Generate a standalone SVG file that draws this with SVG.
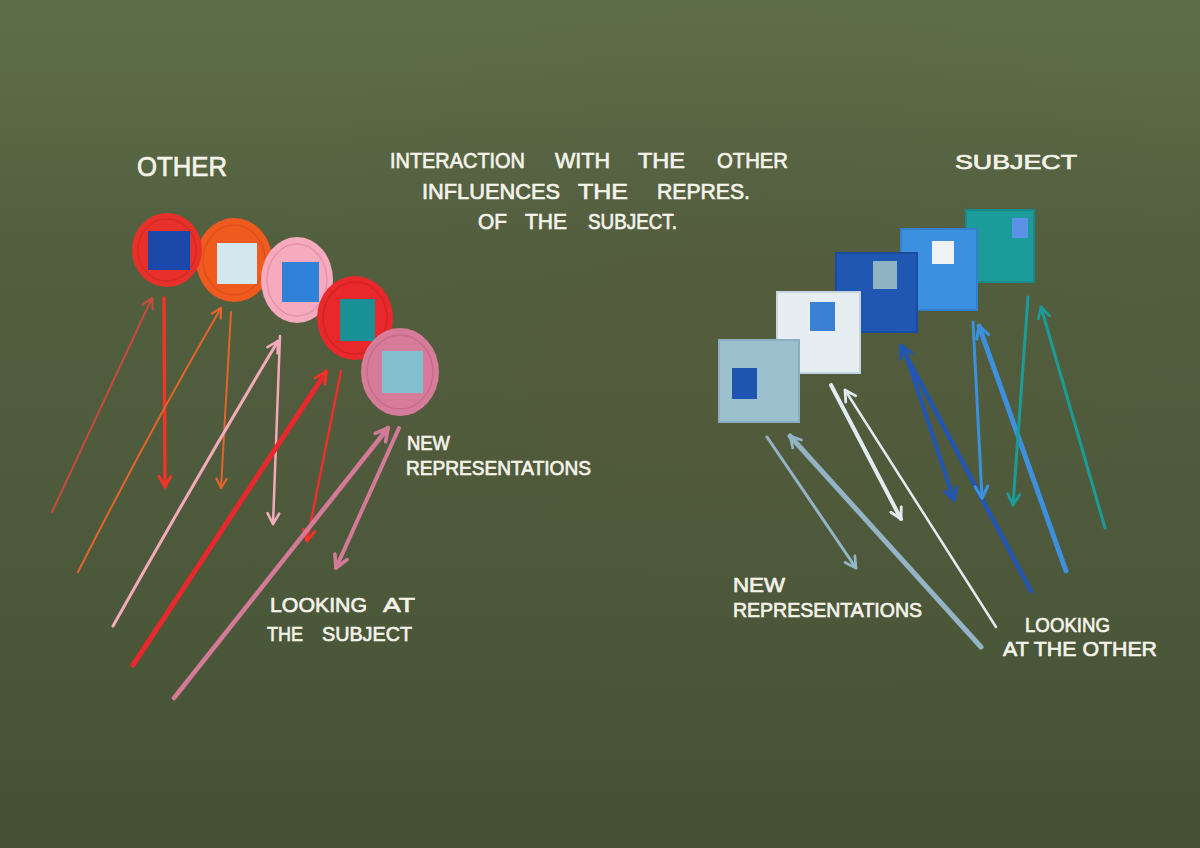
<svg xmlns="http://www.w3.org/2000/svg" width="1200" height="848" viewBox="0 0 1200 848">
<defs>
  <linearGradient id="bg" x1="0" y1="0" x2="0" y2="1">
    <stop offset="0" stop-color="#5f6e4a"/>
    <stop offset="0.3" stop-color="#525f3f"/>
    <stop offset="0.75" stop-color="#4b5739"/>
    <stop offset="1" stop-color="#455035"/>
  </linearGradient>
  <radialGradient id="warm" cx="0.62" cy="0.42" r="0.45">
    <stop offset="0" stop-color="#58583a" stop-opacity="0.3"/>
    <stop offset="1" stop-color="#58583a" stop-opacity="0"/>
  </radialGradient>
  <marker id="m-brick" viewBox="0 0 14 14" refX="12" refY="7" markerWidth="14" markerHeight="14" markerUnits="userSpaceOnUse" orient="auto"><path d="M2,1.5 L12,7 L2,12.5" fill="none" stroke="#c44c3c" stroke-width="2.2" stroke-linecap="round" stroke-linejoin="round"/></marker>
  <marker id="m-red" viewBox="0 0 14 14" refX="12" refY="7" markerWidth="15" markerHeight="15" markerUnits="userSpaceOnUse" orient="auto"><path d="M2,1.5 L12,7 L2,12.5" fill="none" stroke="#ef3428" stroke-width="2.8" stroke-linecap="round" stroke-linejoin="round"/></marker>
  <marker id="m-orange" viewBox="0 0 14 14" refX="12" refY="7" markerWidth="13" markerHeight="13" markerUnits="userSpaceOnUse" orient="auto"><path d="M2,1.5 L12,7 L2,12.5" fill="none" stroke="#e2652c" stroke-width="2.4" stroke-linecap="round" stroke-linejoin="round"/></marker>
  <marker id="m-pink" viewBox="0 0 14 14" refX="12" refY="7" markerWidth="15" markerHeight="15" markerUnits="userSpaceOnUse" orient="auto"><path d="M2,1.5 L12,7 L2,12.5" fill="none" stroke="#f3aabb" stroke-width="2.4" stroke-linecap="round" stroke-linejoin="round"/></marker>
  <marker id="m-mauve" viewBox="0 0 14 14" refX="12" refY="7" markerWidth="17" markerHeight="17" markerUnits="userSpaceOnUse" orient="auto"><path d="M2,1.5 L12,7 L2,12.5" fill="none" stroke="#d47a98" stroke-width="3" stroke-linecap="round" stroke-linejoin="round"/></marker>
  <marker id="m-grey" viewBox="0 0 14 14" refX="12" refY="7" markerWidth="15" markerHeight="15" markerUnits="userSpaceOnUse" orient="auto"><path d="M2,1.5 L12,7 L2,12.5" fill="none" stroke="#93b4c4" stroke-width="2.6" stroke-linecap="round" stroke-linejoin="round"/></marker>
  <marker id="m-white" viewBox="0 0 14 14" refX="12" refY="7" markerWidth="15" markerHeight="15" markerUnits="userSpaceOnUse" orient="auto"><path d="M2,1.5 L12,7 L2,12.5" fill="none" stroke="#e2ecf0" stroke-width="2.6" stroke-linecap="round" stroke-linejoin="round"/></marker>
  <marker id="m-dblue" viewBox="0 0 14 14" refX="12" refY="7" markerWidth="16" markerHeight="16" markerUnits="userSpaceOnUse" orient="auto"><path d="M2,1.5 L12,7 L2,12.5" fill="none" stroke="#2157b2" stroke-width="3" stroke-linecap="round" stroke-linejoin="round"/></marker>
  <marker id="m-mblue" viewBox="0 0 14 14" refX="12" refY="7" markerWidth="16" markerHeight="16" markerUnits="userSpaceOnUse" orient="auto"><path d="M2,1.5 L12,7 L2,12.5" fill="none" stroke="#3d90de" stroke-width="2.8" stroke-linecap="round" stroke-linejoin="round"/></marker>
  <marker id="m-teal" viewBox="0 0 14 14" refX="12" refY="7" markerWidth="15" markerHeight="15" markerUnits="userSpaceOnUse" orient="auto"><path d="M2,1.5 L12,7 L2,12.5" fill="none" stroke="#1c9c98" stroke-width="2.6" stroke-linecap="round" stroke-linejoin="round"/></marker>
</defs>
<style>
  .chalk { font-family: "Liberation Sans", "DejaVu Sans", sans-serif; font-weight: normal; fill: #f4f3ea; stroke: #f4f3ea; stroke-width: 0.7; }
  .t { font-size: 22px; }
  .con { fill: none; stroke-linecap: round; }
  .tex { fill: none; stroke-opacity: 0.3; stroke-width: 1.5; }
  .frame { fill: none; stroke-opacity: 0.5; stroke-width: 2; }
</style>

<rect width="1200" height="848" fill="url(#bg)"/>
<rect width="1200" height="848" fill="url(#warm)"/>

<!-- Other: circles -->
<g id="circle-2">
  <ellipse cx="234" cy="260" rx="38" ry="42" fill="#ef5a1e"/>
  <ellipse cx="234" cy="260" rx="31" ry="35" class="tex" stroke="#b83a10"/>
  <rect x="217" y="243" width="40" height="41" fill="#d2e8ee"/>
</g>
<g id="circle-1">
  <ellipse cx="167" cy="250" rx="35" ry="37" fill="#e8302a"/>
  <ellipse cx="167" cy="250" rx="29" ry="31" class="tex" stroke="#a81a18"/>
  <rect x="148" y="231" width="42" height="39" fill="#1a49a9"/>
</g>
<g id="circle-3">
  <ellipse cx="297" cy="280" rx="36" ry="43" fill="#f6aabd"/>
  <ellipse cx="297" cy="280" rx="30" ry="36" class="tex" stroke="#c0607a"/>
  <rect x="282" y="262" width="37" height="40" fill="#2f82d8"/>
</g>
<g id="circle-4">
  <ellipse cx="355" cy="318" rx="38" ry="42" fill="#e8282a"/>
  <ellipse cx="355" cy="318" rx="32" ry="36" class="tex" stroke="#a01818"/>
  <rect x="340" y="299" width="35" height="42" fill="#179196"/>
</g>
<g id="circle-5">
  <ellipse cx="400" cy="372" rx="39" ry="44" fill="#d77b9b"/>
  <ellipse cx="400" cy="372" rx="33" ry="37" class="tex" stroke="#9c4a66"/>
  <rect x="382" y="351" width="41" height="42" fill="#82c0d0"/>
</g>

<!-- Subject: squares (back to front) -->
<g id="square-5">
  <rect x="965" y="209" width="70" height="74" fill="#1b9c9a"/>
  <rect x="966" y="210" width="68" height="72" class="frame" stroke="#117a78"/>
  <rect x="1012" y="218" width="16" height="20" fill="#5b91e6"/>
</g>
<g id="square-4">
  <rect x="900" y="228" width="78" height="83" fill="#3c90e0"/>
  <rect x="901" y="229" width="76" height="81" class="frame" stroke="#2a70bc"/>
  <rect x="932" y="241" width="22" height="23" fill="#eef2f4"/>
</g>
<g id="square-3">
  <rect x="835" y="252" width="83" height="81" fill="#1f57b2"/>
  <rect x="836" y="253" width="81" height="79" class="frame" stroke="#15408a"/>
  <rect x="873" y="261" width="24" height="28" fill="#8fb3c3"/>
</g>
<g id="square-2">
  <rect x="776" y="291" width="85" height="83" fill="#e6eef2"/>
  <rect x="777" y="292" width="83" height="81" class="frame" stroke="#a8bccc"/>
  <rect x="810" y="302" width="25" height="29" fill="#3a80d4"/>
</g>
<g id="square-1">
  <rect x="718" y="339" width="82" height="84" fill="#9dc0cf"/>
  <rect x="719" y="340" width="80" height="82" class="frame" stroke="#7a9eb0"/>
  <rect x="732" y="368" width="25" height="31" fill="#1d55b0"/>
</g>

<!-- Connectors -->
<g id="connectors">
  <!-- left side -->
  <path class="con" d="M52,512 L152,298" stroke="#c44c3c" stroke-width="2" marker-end="url(#m-brick)"/>
  <path class="con" d="M164,298 L165,487" stroke="#ef3428" stroke-width="3.5" marker-end="url(#m-red)"/>
  <path class="con" d="M78,572 Q150,430 221,308" stroke="#e2652c" stroke-width="2" marker-end="url(#m-orange)"/>
  <path class="con" d="M231,312 L221,488" stroke="#e2652c" stroke-width="2" marker-end="url(#m-orange)"/>
  <path class="con" d="M113,626 Q195,480 278,341" stroke="#f3aabb" stroke-width="3" marker-end="url(#m-pink)"/>
  <path class="con" d="M280,336 L273,524" stroke="#f3aabb" stroke-width="2.5" marker-end="url(#m-pink)"/>
  <path class="con" d="M133,665 L326,372" stroke="#e8282c" stroke-width="5" marker-end="url(#m-red)"/>
  <path class="con" d="M341,371 L307,541" stroke="#ea302c" stroke-width="2.5" marker-end="url(#m-red)"/>
  <path class="con" d="M174,698 L388,428" stroke="#d47a98" stroke-width="4.5" marker-end="url(#m-mauve)"/>
  <path class="con" d="M399,428 L336,568" stroke="#d47a98" stroke-width="4" marker-end="url(#m-mauve)"/>
  <!-- right side -->
  <path class="con" d="M767,437 L856,568" stroke="#93b4c4" stroke-width="3" marker-end="url(#m-grey)"/>
  <path class="con" d="M981,647 L790,436" stroke="#93b4c4" stroke-width="5" marker-end="url(#m-grey)"/>
  <path class="con" d="M831,385 L901,519" stroke="#e2ecf0" stroke-width="4" marker-end="url(#m-white)"/>
  <path class="con" d="M996,627 L845,390" stroke="#e2ecf0" stroke-width="2.5" marker-end="url(#m-white)"/>
  <path class="con" d="M905,352 L954,500" stroke="#2157b2" stroke-width="4" marker-end="url(#m-dblue)"/>
  <path class="con" d="M1031,591 L901,346" stroke="#2157b2" stroke-width="4.5" marker-end="url(#m-dblue)"/>
  <path class="con" d="M973,322 L982,498" stroke="#3d90de" stroke-width="3" marker-end="url(#m-mblue)"/>
  <path class="con" d="M1066,571 L979,326" stroke="#3d90de" stroke-width="5" marker-end="url(#m-mblue)"/>
  <path class="con" d="M1028,297 L1013,505" stroke="#1c9c98" stroke-width="3" marker-end="url(#m-teal)"/>
  <path class="con" d="M1105,528 L1041,307" stroke="#1c9c98" stroke-width="3" marker-end="url(#m-teal)"/>
</g>

<!-- Labels -->
<g id="labels">
  <text class="chalk" x="137" y="176" font-size="27" textLength="90" lengthAdjust="spacingAndGlyphs">OTHER</text>
  <text class="chalk t" y="168"><tspan x="390" textLength="135" lengthAdjust="spacingAndGlyphs">INTERACTION</tspan><tspan x="555" textLength="55" lengthAdjust="spacingAndGlyphs">WITH</tspan><tspan x="638" textLength="47" lengthAdjust="spacingAndGlyphs">THE</tspan><tspan x="717" textLength="71" lengthAdjust="spacingAndGlyphs">OTHER</tspan></text>
  <text class="chalk t" y="199"><tspan x="422" textLength="138" lengthAdjust="spacingAndGlyphs">INFLUENCES</tspan><tspan x="578" textLength="50" lengthAdjust="spacingAndGlyphs">THE</tspan><tspan x="657" textLength="93" lengthAdjust="spacingAndGlyphs">REPRES.</tspan></text>
  <text class="chalk t" y="229"><tspan x="478" textLength="29" lengthAdjust="spacingAndGlyphs">OF</tspan><tspan x="525" textLength="42" lengthAdjust="spacingAndGlyphs">THE</tspan><tspan x="588" textLength="89" lengthAdjust="spacingAndGlyphs">SUBJECT.</tspan></text>
  <text class="chalk" x="955" y="169" font-size="21" textLength="122" lengthAdjust="spacingAndGlyphs">SUBJECT</text>
  <text class="chalk" x="407" y="450" font-size="20" textLength="43" lengthAdjust="spacingAndGlyphs">NEW</text>
  <text class="chalk" x="406" y="475" font-size="20" textLength="185" lengthAdjust="spacingAndGlyphs">REPRESENTATIONS</text>
  <text class="chalk" font-size="21" y="612"><tspan x="270" textLength="97" lengthAdjust="spacingAndGlyphs">LOOKING</tspan><tspan x="383" textLength="32" lengthAdjust="spacingAndGlyphs">AT</tspan></text>
  <text class="chalk" font-size="21" y="641"><tspan x="267" textLength="36" lengthAdjust="spacingAndGlyphs">THE</tspan><tspan x="322" textLength="90" lengthAdjust="spacingAndGlyphs">SUBJECT</tspan></text>
  <text class="chalk" x="733" y="592" font-size="20" textLength="52" lengthAdjust="spacingAndGlyphs">NEW</text>
  <text class="chalk" x="733" y="617" font-size="20" textLength="189" lengthAdjust="spacingAndGlyphs">REPRESENTATIONS</text>
  <text class="chalk" x="1025" y="632" font-size="21" textLength="85" lengthAdjust="spacingAndGlyphs">LOOKING</text>
  <text class="chalk" x="1003" y="656" font-size="21" textLength="154" lengthAdjust="spacingAndGlyphs">AT THE OTHER</text>
</g>
</svg>
